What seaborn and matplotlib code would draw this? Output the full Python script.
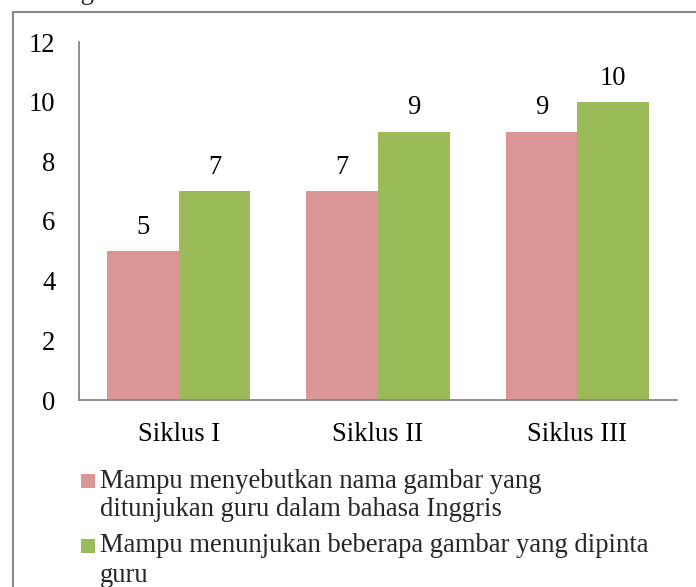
import matplotlib
matplotlib.use('Agg')

import pandas as pd
import matplotlib.pyplot as plt
from matplotlib.patches import Rectangle
import seaborn as sns

# data
categories = ['Siklus I', 'Siklus II', 'Siklus III']
series_names = ['Mampu menyebutkan nama gambar yang\nditunjukan guru dalam bahasa Inggris',
                'Mampu menunjukan beberapa gambar yang dipinta\nguru']
values_a = [5, 7, 9]
values_b = [7, 9, 10]
colors = ['#D99694', '#9BBB59']

df = pd.DataFrame({
    'Siklus': categories * 2,
    'Seri': [series_names[0]] * 3 + [series_names[1]] * 3,
    'Nilai': values_a + values_b,
})

sns.set_style('white')
plt.rcParams['font.family'] = ['Liberation Serif', 'DejaVu Serif']
FS = 19.2

W, H = 696, 587
fig = plt.figure(figsize=(W / 100, H / 100), dpi=100)
ax = fig.add_axes([79 / W, 1 - 400 / H, (677 - 79) / W, (400 - 42) / H])

sns.barplot(data=df, x='Siklus', y='Nilai', hue='Seri', palette=colors,
            width=0.72, saturation=1, legend=False, ax=ax, errorbar=None,
            linewidth=0)

for cont in ax.containers:
    ax.bar_label(cont, padding=8, fontsize=FS, color='#000000')

ax.set_ylim(0, 12)
ax.set_yticks(range(0, 13, 2))
ax.set_xlim(-0.5, 2.5)
ax.set_xlabel('')
ax.set_ylabel('')
ax.tick_params(axis='y', length=0, pad=17, labelsize=FS, colors='black')
ax.tick_params(axis='x', length=0, pad=16, labelsize=FS, colors='black')
for s in ['top', 'right']:
    ax.spines[s].set_visible(False)
for s in ['left', 'bottom']:
    ax.spines[s].set_color('#868686')
    ax.spines[s].set_linewidth(1.3)

# outer frame (cut off at right and bottom)
fig.patches.append(Rectangle((13 / W, -0.1), 1.2, 1 - 12 / H + 0.1, transform=fig.transFigure,
                             fill=False, edgecolor='#898989', linewidth=1.5))

# text above the frame, mostly cut off by the top edge as in the reference
fig.text(48 / W, 1 + 1 / H, 'diagram di bawah ini', fontsize=FS, va='baseline', ha='left')

# legend
legend_rows = [(481, series_names[0], colors[0]), (546, series_names[1], colors[1])]
for yc, label, col in legend_rows:
    fig.patches.append(Rectangle((81 / W, 1 - (yc + 7) / H), 14 / W, 14 / H,
                                 transform=fig.transFigure, facecolor=col, edgecolor='none'))
    for i, line in enumerate(label.split('\n')):
        fig.text(100 / W, 1 - (yc + i * 29) / H, line, fontsize=FS, va='center', ha='left')

fig.savefig('out.png', dpi=100)
plt.close()
